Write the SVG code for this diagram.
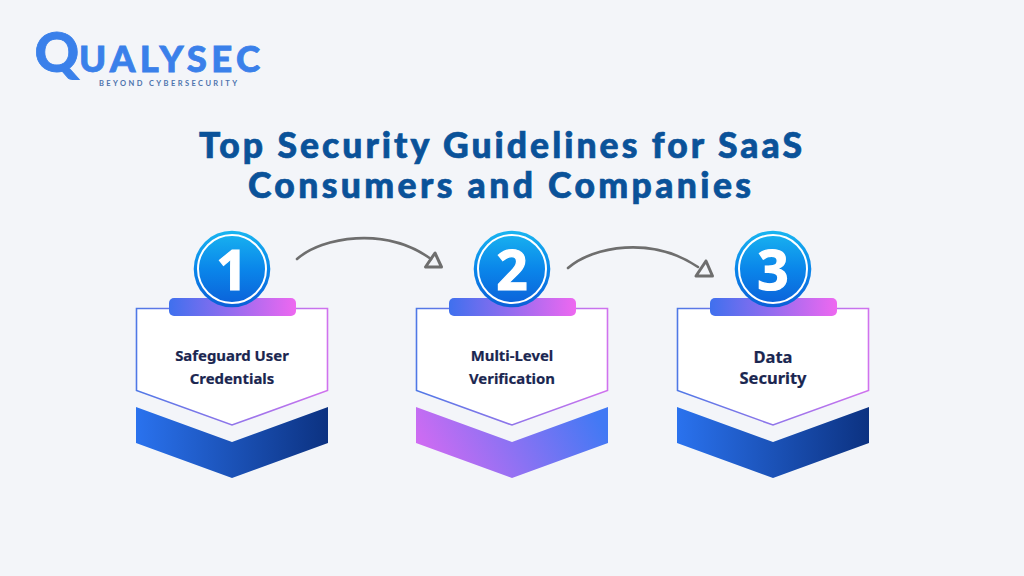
<svg xmlns="http://www.w3.org/2000/svg" width="1024" height="576" viewBox="0 0 1024 576">
<style>
.title{font-family:"Lato","Liberation Sans",sans-serif;font-weight:900;font-size:35.5px;fill:#0a5299;stroke:#0a5299;stroke-width:0.700px;text-anchor:middle}
.label{font-family:"Noto Sans","Liberation Sans",sans-serif;font-weight:700;font-size:14.9px;fill:#1a2650;stroke:#1a2650;stroke-width:0.200px;text-anchor:middle}
.big{font-size:16.500px}
.digit{font-family:"Noto Sans","Liberation Sans",sans-serif;font-weight:700;font-size:55px;fill:#fff;stroke:#fff;stroke-width:1.200px;text-anchor:middle}
.box{fill:#fff;stroke-width:1.600px}
.ring{fill:none;stroke:#fff;stroke-width:2px}
.conn{fill:none;stroke:#6e6e6e;stroke-width:2.600px;stroke-linecap:round;stroke-linejoin:round}
.head{stroke-width:3px}
.logo{font-family:Lato,"Liberation Sans",sans-serif;font-weight:900;fill:#3a80ea;stroke:#3a80ea;stroke-width:0.800px}
</style>
<defs>
<linearGradient id="disc" x1="0" y1="0" x2="0" y2="1"><stop offset="0" stop-color="#19b5f0"/><stop offset="0.5" stop-color="#0a86ea"/><stop offset="1" stop-color="#0b5fd8"/></linearGradient>
<linearGradient id="bar" x1="0" y1="0" x2="1" y2="0"><stop offset="0" stop-color="#3f70ee"/><stop offset="1" stop-color="#ee68f0"/></linearGradient>
<linearGradient id="edge" x1="0" y1="0" x2="1" y2="0"><stop offset="0" stop-color="#4f78e6"/><stop offset="1" stop-color="#d072ee"/></linearGradient>
<linearGradient id="blue" x1="0" y1="0" x2="1" y2="0"><stop offset="0" stop-color="#2a72ee"/><stop offset="1" stop-color="#0c3281"/></linearGradient>
<linearGradient id="pink" x1="0" y1="0.6" x2="1" y2="0.4"><stop offset="0" stop-color="#d36bf2"/><stop offset="1" stop-color="#4279f4"/></linearGradient>
<g id="card">
<path class="box" stroke="url(#edge)" d="M-95.500 -92.500H95.500V-10.500L0 24L-95.500 -10.500Z"/>
<rect x="-63" y="-103" width="127" height="18" rx="5" fill="url(#bar)"/>
<circle cx="0" cy="-132" r="38.300" fill="url(#disc)"/>
<circle class="ring" cx="0" cy="-132" r="34"/>
</g>
</defs>
<rect width="1024" height="576" fill="#f3f5f9"/>
<g id="logo">
<text class="logo" x="34.500" y="72" font-size="55">Q</text>
<text class="logo" x="79" y="71.500" font-size="36.500" textLength="181" lengthAdjust="spacing">UALYSEC</text>
<text x="99" y="85.500" textLength="138" lengthAdjust="spacing" font-family="Lato,'Liberation Sans',sans-serif" font-weight="700" font-size="7.500" fill="#4d73ad">BEYOND CYBERSECURITY</text>
</g>
<g id="title">
<text class="title" x="500.500" y="158" textLength="603" lengthAdjust="spacing">Top Security Guidelines for SaaS</text>
<text class="title" x="499.500" y="198" textLength="503" lengthAdjust="spacing">Consumers and Companies</text>
</g>
<g id="connectors">
<path class="conn" d="M297 259C322 237 385 226 431 259"/>
<path class="conn head" d="M435 253L425.500 267L441.500 267Z"/>
<path class="conn" d="M568 268C593 246 652 236 698 267"/>
<path class="conn head" d="M706 261L696 276L712.500 276Z"/>
</g>
<g id="node-1" transform="translate(232 401)">
<use href="#card"/>
<text class="digit" x="0" y="-111.500">1</text>
<text class="label" x="0" y="-40">Safeguard User</text>
<text class="label" x="0" y="-17">Credentials</text>
<path fill="url(#blue)" d="M-96 6L0 41L96 6V42L0 77L-96 42Z"/>
</g>
<g id="node-2" transform="translate(512 401)">
<use href="#card"/>
<text class="digit" x="0" y="-111.500">2</text>
<text class="label" x="0" y="-40">Multi-Level</text>
<text class="label" x="0" y="-17">Verification</text>
<path fill="url(#pink)" d="M-96 6L0 41L96 6V42L0 77L-96 42Z"/>
</g>
<g id="node-3" transform="translate(773 401)">
<use href="#card"/>
<text class="digit" x="0" y="-111.500">3</text>
<text class="label big" x="0" y="-38">Data</text>
<text class="label big" x="0" y="-17">Security</text>
<path fill="url(#blue)" d="M-96 6L0 41L96 6V42L0 77L-96 42Z"/>
</g>
</svg>
